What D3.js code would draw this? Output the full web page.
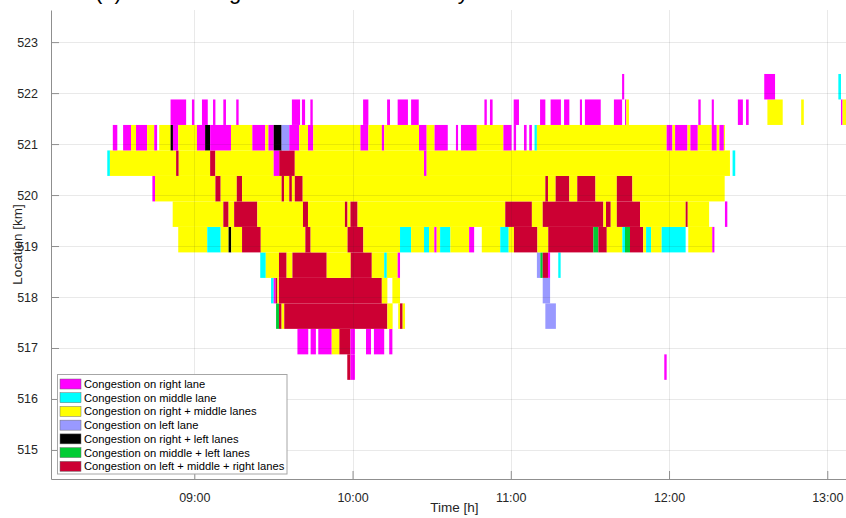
<!DOCTYPE html>
<html>
<head>
<meta charset="utf-8">
<script src="https://cdn.jsdelivr.net/npm/d3@7"></script>
<style>
  body { margin: 0; background: #ffffff; }
  svg { display: block; font-family: "Liberation Sans", Arial, Helvetica, sans-serif; }
</style>
</head>
<body>
<svg id="chart" width="846" height="518"></svg>
<script>
// Congestion state categories (lane combinations) and their colours
const categories = [
  "Congestion on right lane",
  "Congestion on middle lane",
  "Congestion on right + middle lanes",
  "Congestion on left lane",
  "Congestion on right + left lanes",
  "Congestion on middle + left lanes",
  "Congestion on left + middle + right lanes"
];
const categoryColors = ["#ff00ff", "#00ffff", "#ffff00", "#9999ff", "#000000", "#00cc33", "#cc0033"];

// Axis ticks: time in minutes after 08:00, location in km
const xTickValues = [60, 120, 180, 240, 300];
const xTickLabels = ["09:00", "10:00", "11:00", "12:00", "13:00"];
const yTickValues = [515, 516, 517, 518, 519, 520, 521, 522, 523];

// Road sections (centre of each 0.5 km cell), bottom to top
const rowLocations = [516.625, 517.125, 517.625, 518.125, 518.625, 519.125,
                      519.625, 520.125, 520.625, 521.125, 521.625, 522.125];
const cellHeightKm = 0.5;

// Per section: [start minute, end minute, category index]
const section0 = [[118.0,119.2,6],[119.2,120.9,0],[238.2,239.1,0]];
const section1 = [[99.1,103.2,0],[104.1,106.1,0],[107.0,112.1,0],[112.1,115.0,2],[115.0,119.2,6],[119.2,120.9,0],
                  [125.1,127.0,0],[128.1,132.0,0],[133.9,135.1,0]];
const section2 = [[91.0,92.1,5],[92.1,93.1,6],[93.1,94.1,2],[94.1,133.2,6],[133.2,135.2,2],[137.3,138.0,2],
                  [138.0,139.0,6],[139.0,139.9,2],[193.1,197.1,3]];
const section3 = [[89.1,90.1,1],[90.1,90.8,0],[90.8,91.5,6],[91.5,92.1,2],[92.1,131.1,6],[131.1,133.2,2],
                  [135.1,138.0,2],[192.1,194.9,3]];
const section4 = [[85.0,87.1,1],[87.1,92.1,2],[92.1,95.0,6],[95.0,97.2,2],[97.2,110.2,6],[110.2,119.3,2],
                  [119.3,127.3,6],[127.3,132.0,2],[132.0,133.0,1],[133.0,137.1,2],[137.1,138.0,0],
                  [189.9,191.2,3],[191.2,192.1,5],[192.1,194.1,6],[194.1,194.9,0],[198.0,198.9,1]];
const section5 = [[53.9,64.9,2],[64.9,70.0,1],[70.0,73.0,2],[73.0,74.0,4],[74.0,78.1,2],[78.1,85.2,6],
                  [85.2,102.1,2],[102.1,104.1,6],[104.1,118.1,2],[118.1,124.1,6],[124.1,138.0,2],
                  [138.0,142.2,1],[142.2,147.1,2],[147.1,149.0,1],[149.0,151.0,2],[151.0,151.9,0],
                  [151.9,153.2,2],[153.2,157.1,1],[157.1,164.2,2],[164.2,166.1,0],[169.0,176.0,2],
                  [176.0,179.2,1],[179.2,181.2,2],[181.2,190.1,6],[190.1,194.2,2],[194.2,211.3,6],
                  [211.3,213.2,5],[213.2,216.4,6],[216.4,222.3,2],[222.3,223.3,1],[223.3,225.2,5],
                  [225.2,230.2,6],[230.2,231.3,2],[231.3,233.2,1],[233.2,237.2,2],[237.2,246.3,1],
                  [247.3,256.4,2],[256.4,257.2,0]];
const section6 = [[51.8,71.0,2],[71.0,73.0,6],[73.0,75.1,2],[75.1,83.9,6],[83.9,101.2,2],[101.2,103.1,6],
                  [103.1,117.1,2],[117.1,118.1,6],[118.1,119.2,2],[119.2,121.9,6],[121.9,177.9,2],
                  [177.9,188.0,6],[188.0,192.1,2],[192.1,215.1,6],[215.1,216.1,2],[216.1,217.9,6],
                  [217.9,220.2,2],[220.2,229.0,6],[229.0,246.3,2],[246.3,247.1,6],[247.1,255.2,2],
                  [261.2,262.1,0]];
const section7 = [[44.1,45.1,0],[45.1,68.0,2],[68.0,70.0,6],[70.0,76.1,2],[76.1,78.1,6],[78.1,93.1,2],
                  [93.1,94.0,6],[94.0,96.0,2],[96.0,97.0,6],[97.0,98.1,2],[98.1,101.1,6],[101.1,193.1,2],
                  [193.1,194.1,6],[194.1,197.0,2],[197.0,202.2,6],[202.2,205.2,2],[205.2,212.1,6],
                  [212.1,220.2,2],[220.2,226.1,6],[226.1,261.1,2]];
const section8 = [[27.0,28.0,1],[28.0,53.1,2],[53.1,54.1,6],[54.1,66.0,2],[66.0,68.0,6],[68.0,90.1,2],
                  [90.1,92.2,0],[92.2,98.1,6],[98.1,147.1,2],[147.1,148.1,0],[148.1,263.1,2],[264.1,265.1,1]];
const section9 = [[29.1,30.8,0],[33.0,36.0,0],[36.0,37.9,2],[37.9,42.1,0],[42.1,44.8,2],[44.8,45.9,0],
                  [46.7,51.0,2],[51.0,51.9,4],[51.9,53.9,0],[53.9,61.0,2],[61.0,64.1,0],[64.1,66.0,4],
                  [66.0,73.9,0],[73.9,82.0,2],[82.0,86.9,0],[86.9,88.1,2],[88.1,90.1,0],[90.1,93.1,4],
                  [93.1,96.0,3],[96.0,99.8,0],[99.8,103.1,2],[103.1,105.1,0],[105.1,123.0,2],
                  [123.0,126.0,0],[126.0,131.1,2],[131.1,132.0,0],[132.0,145.2,2],[145.2,148.1,0],
                  [148.1,151.1,2],[151.1,156.1,0],[159.2,160.0,0],[161.1,167.1,0],[167.1,177.2,2],
                  [177.2,180.3,0],[181.1,182.0,0],[185.0,186.0,0],[187.0,188.0,0],[189.0,189.9,1],
                  [189.9,239.1,2],[239.1,241.3,0],[241.3,242.3,2],[242.3,247.0,0],[247.0,248.1,2],
                  [248.1,250.9,0],[250.9,256.2,2],[256.2,258.1,0],[258.1,259.1,2],[259.1,260.8,0],
                  [260.8,261.2,2]];
const section10 = [[51.0,56.9,0],[59.1,60.0,0],[62.9,65.1,0],[67.1,68.0,0],[71.0,72.0,0],[75.9,76.8,0],
                   [97.0,100.1,0],[100.8,102.0,0],[104.0,104.9,0],[124.0,126.0,0],[133.1,134.2,0],
                   [137.1,141.0,0],[142.2,145.1,0],[170.0,170.9,0],[172.1,173.1,0],[181.1,183.1,0],
                   [191.1,193.1,0],[195.1,199.0,0],[200.2,202.2,0],[206.2,207.0,0],[208.1,214.1,0],
                   [219.1,222.2,0],[223.3,223.8,0],[223.8,224.8,2],[251.1,252.0,0],[256.2,257.0,0],
                   [266.1,268.0,0],[269.2,270.2,0],[277.3,283.1,2],[290.1,291.1,2],[305.2,305.8,0],
                   [305.8,307.2,2]];
const section11 = [[222.2,223.0,0],[276.1,280.2,0],[304.2,305.2,1]];

const rowSegments = [section0, section1, section2, section3, section4, section5,
                     section6, section7, section8, section9, section10, section11];

// Visible window
const timeDomain = [5.66, 307.1];
const locationDomain = [514.43, 523.63];
const titleText = "(b) Traffic congestion on the motorway";

const svg = d3.select("#chart");
const W = 846, H = 518;
const margin = { left: 51, right: 0, top: 10, bottom: 39 };

const x = d3.scaleLinear().domain(timeDomain).range([margin.left, W - margin.right]);
const y = d3.scaleLinear().domain(locationDomain).range([H - margin.bottom, margin.top]);

// Title (largely above the visible area)
svg.append("text")
  .attr("x", 95).attr("y", -1)
  .attr("font-size", 22).attr("fill", "#000")
  .text(titleText);

// Congestion cells
const cells = [];
rowSegments.forEach((segs, i) => {
  segs.forEach(s => cells.push({ loc: rowLocations[i], t0: s[0], t1: s[1], c: s[2] }));
});

svg.append("clipPath").attr("id", "plotClip")
  .append("rect").attr("x", margin.left).attr("y", margin.top)
  .attr("width", W - margin.left - margin.right).attr("height", H - margin.top - margin.bottom);

svg.append("g").attr("clip-path", "url(#plotClip)")
  .selectAll("rect").data(cells).join("rect")
  .attr("x", d => x(d.t0))
  .attr("width", d => Math.max(0.5, x(d.t1) - x(d.t0)))
  .attr("y", d => y(d.loc + cellHeightKm / 2))
  .attr("height", d => y(d.loc - cellHeightKm / 2) - y(d.loc + cellHeightKm / 2))
  .attr("fill", d => categoryColors[d.c]);

// Grid lines (drawn over the cells, faint)
const grid = svg.append("g").attr("stroke", "#262626").attr("stroke-opacity", 0.1).attr("stroke-width", 1);
grid.selectAll("line.gx").data(xTickValues).join("line")
  .attr("x1", d => Math.round(x(d)) + 0.5).attr("x2", d => Math.round(x(d)) + 0.5)
  .attr("y1", margin.top).attr("y2", H - margin.bottom);
grid.selectAll("line.gy").data(yTickValues).join("line")
  .attr("y1", d => Math.round(y(d)) + 0.5).attr("y2", d => Math.round(y(d)) + 0.5)
  .attr("x1", margin.left).attr("x2", W);

// Axes (ticks pointing inward)
const axisColor = "#8f8f8f";
const labelColor = "#262626";

const xAxis = d3.axisBottom(x).tickValues(xTickValues)
  .tickFormat((d, i) => xTickLabels[i]).tickSizeInner(-8).tickSizeOuter(0).tickPadding(14);
const gx = svg.append("g").attr("transform", `translate(0,${H - margin.bottom})`).call(xAxis);
gx.select(".domain").attr("stroke", axisColor);
gx.selectAll(".tick line").attr("stroke", axisColor);
gx.selectAll(".tick text").attr("fill", labelColor).attr("font-size", 12.5)
  .attr("font-family", "Liberation Sans, Arial, sans-serif");

const yAxis = d3.axisLeft(y).tickValues(yTickValues)
  .tickFormat(d3.format("d")).tickSizeInner(-8).tickSizeOuter(0).tickPadding(13);
const gy = svg.append("g").attr("transform", `translate(${margin.left},0)`).call(yAxis);
gy.select(".domain").attr("stroke", axisColor);
gy.selectAll(".tick line").attr("stroke", axisColor);
gy.selectAll(".tick text").attr("fill", labelColor).attr("font-size", 12.5)
  .attr("font-family", "Liberation Sans, Arial, sans-serif");

// Axis labels
svg.append("text")
  .attr("x", (margin.left + W) / 2 + 6).attr("y", 512)
  .attr("text-anchor", "middle").attr("font-size", 13.5).attr("fill", labelColor)
  .text("Time [h]");
svg.append("text")
  .attr("transform", `translate(22,${(margin.top + H - margin.bottom) / 2}) rotate(-90)`)
  .attr("text-anchor", "middle").attr("font-size", 13.5).attr("fill", labelColor)
  .text("Location [km]");

// Legend
const legend = svg.append("g");
legend.append("rect")
  .attr("x", 57.5).attr("y", 374.5).attr("width", 229.5).attr("height", 99.5)
  .attr("fill", "#ffffff").attr("stroke", "#a6a6a6").attr("stroke-width", 1);
const entry = legend.selectAll("g.entry").data(categories).join("g")
  .attr("transform", (d, i) => `translate(0,${384 + i * 13.72})`);
entry.append("rect")
  .attr("x", 60).attr("y", -5).attr("width", 21).attr("height", 10)
  .attr("fill", (d, i) => categoryColors[i]).attr("stroke", "#6e6e6e").attr("stroke-width", 0.5);
entry.append("text")
  .attr("x", 84).attr("y", 4).attr("font-size", 11.2).attr("fill", "#000")
  .text(d => d);
</script>
</body>
</html>
